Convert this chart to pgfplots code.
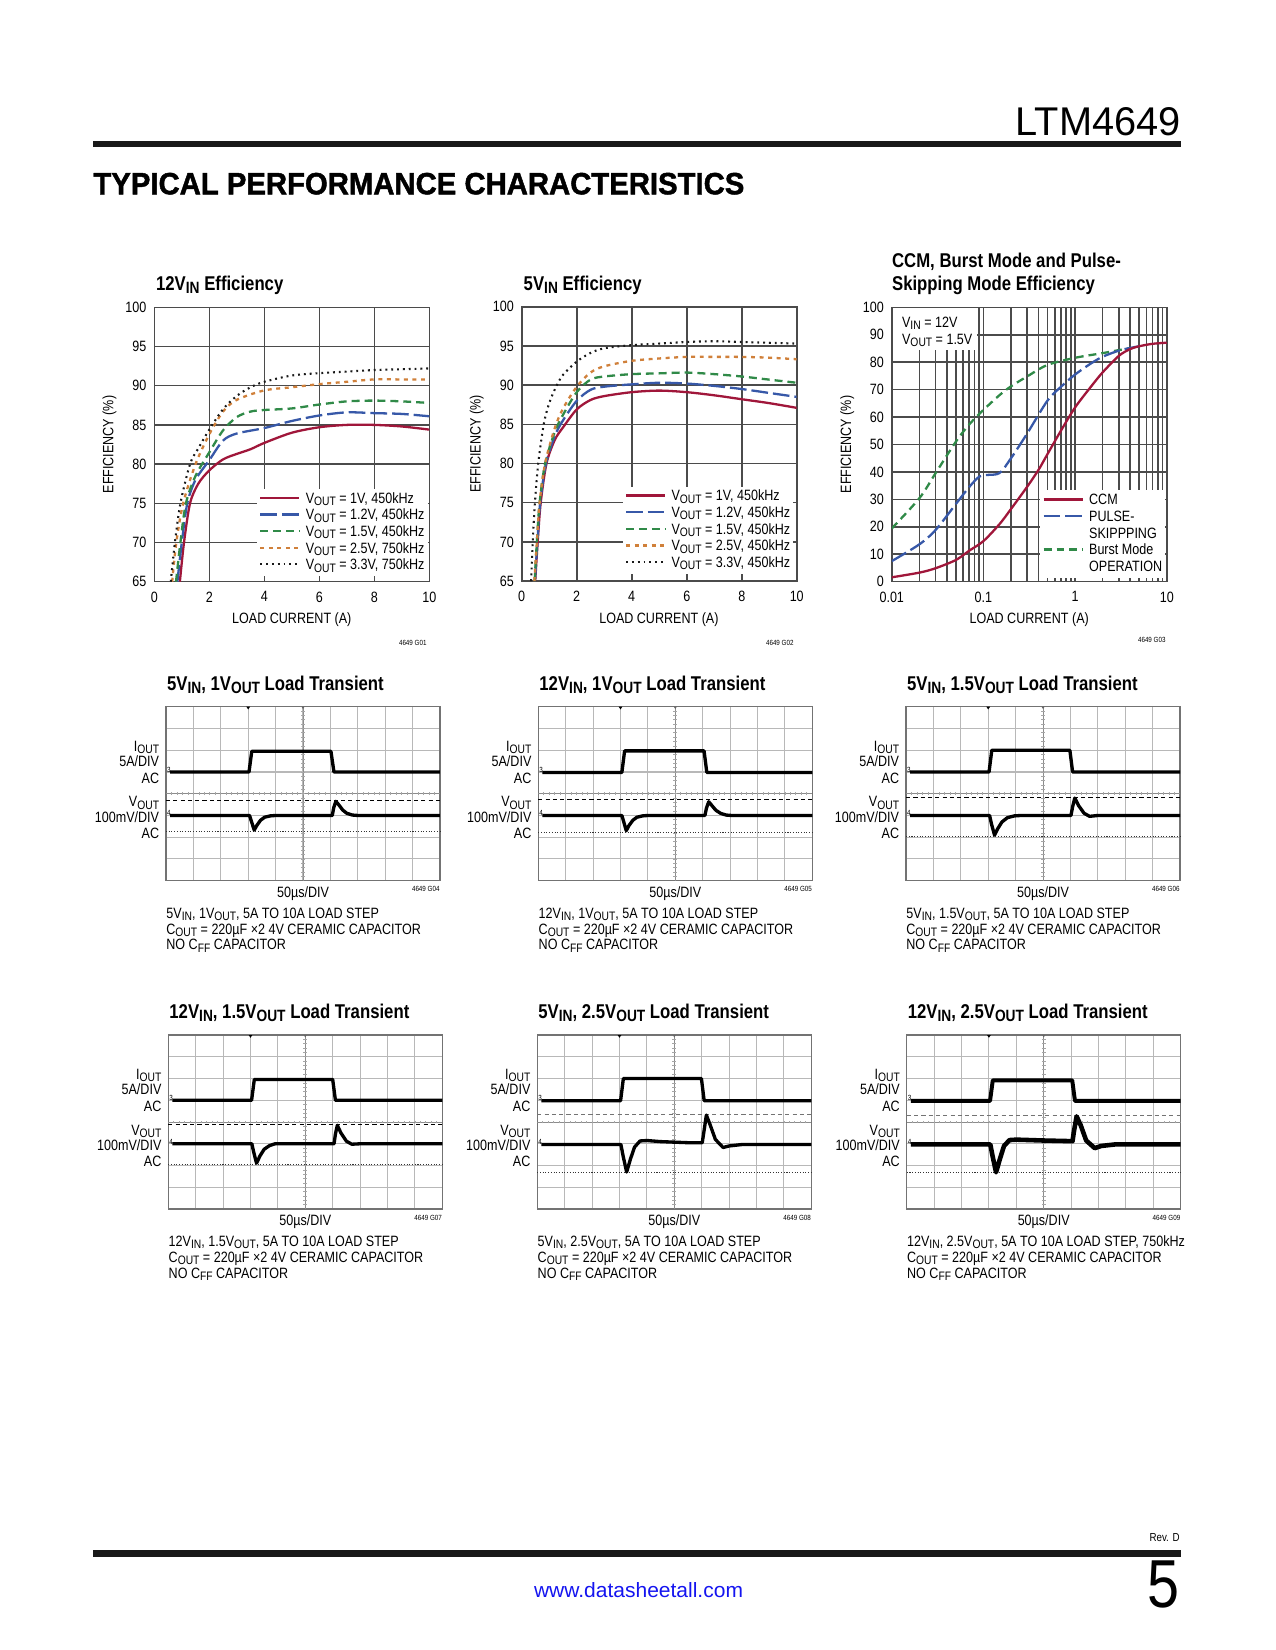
\documentclass[border=0pt]{standalone}
\usepackage{fontspec}
\setmainfont{Liberation Sans}[FakeStretch=0.84]
\newfontfamily\plainfont{Liberation Sans}
\newfontfamily\heavyfont{Liberation Sans}[BoldFeatures={FakeBold=1.5}]
\usepackage{graphicx}
\usepackage{pgfplots}
\pgfplotsset{compat=1.18}

\newdimen\pxu \pxu=0.48bp
\newcommand\sub[1]{\raisebox{-0.3ex}{\scalebox{0.82}{#1}}}
\newcommand\tk{\fontsize{7.2}{8.6}\selectfont}
\newcommand\ttl{\fontsize{9.6}{11.5}\selectfont\bfseries}
\newcommand\tinyf{\fontsize{3.6}{4.2}\selectfont}

\definecolor{cred}{RGB}{160,22,58}
\definecolor{cblue}{RGB}{55,88,168}
\definecolor{cgreen}{RGB}{48,138,72}
\definecolor{corange}{RGB}{208,128,58}
\definecolor{cdot}{RGB}{25,25,25}
\definecolor{cgrid}{RGB}{75,75,75}
\definecolor{linkblue}{RGB}{20,20,240}

\tikzset{
 sred/.style={cred, line width=1.1bp},
 sblue/.style={cblue, line width=1.1bp, dash pattern=on 8bp off 2.4bp},
 sgreen/.style={cgreen, line width=1.1bp, dash pattern=on 3.8bp off 2.4bp},
 sorange/.style={corange, line width=1.1bp, dash pattern=on 1.9bp off 2.2bp},
 sdot/.style={cdot, line width=1bp, dash pattern=on 0.9bp off 1.9bp},
 trace/.style={black, line width=1.6bp, line join=round},
}

\pgfplotsset{
 effax/.style={scale only axis, width=132bp, height=131.7bp, anchor=north west,
  axis line style={cgrid, line width=0.75bp},
  grid=major, grid style={cgrid, line width=0.75bp},
  major tick length=0pt, minor tick length=0pt,
  tick label style={font=\tk, inner sep=0pt},
  /pgf/number format/assume math mode=true,
  yticklabel style={xshift=-3.6bp},
  xticklabel style={yshift=-4.6bp},
  legend cell align=left,
  legend style={draw=none, fill=white, font=\tk, inner xsep=1bp, inner ysep=1bp,
   row sep=0pt, column sep=2bp,
   nodes={text height=5.3bp, text depth=1.6bp, inner ysep=0.55bp, inner xsep=0.5bp}},
  legend image code/.code={\draw[##1] (0bp,0.7bp) -- (18.8bp,0.7bp);},
 },
 scopeax/.style={scale only axis, width=131.5bp, height=83.5bp, anchor=north west,
  xmin=0, xmax=10, ymin=0, ymax=8, xtick={0,...,10}, ytick={0,...,8},
  xticklabels={}, yticklabels={}, major tick length=0pt,
  grid=major, grid style={black!28, line width=0.5bp},
  axis line style={black!55, line width=0.6bp}, clip=false},
}

\newcommand\graticule{%
 \draw[black!45, line width=0.45bp] (axis cs:5,0) -- (axis cs:5,8) (axis cs:0,4) -- (axis cs:10,4);
 \pgfplotsinvokeforeach{0.2,0.4,...,9.8}{\draw[black!35, line width=0.35bp] (axis cs:##1,3.94) -- (axis cs:##1,4.06);}
 \pgfplotsinvokeforeach{0.2,0.4,...,7.8}{\draw[black!35, line width=0.35bp] (axis cs:4.93,##1) -- (axis cs:5.07,##1);}
 \fill[black] (axis cs:3,8) ++(-0.9bp,0) -- ++(1.8bp,0) -- ++(-0.9bp,-1.3bp) -- cycle;
 \fill[black!60] (axis cs:5,8) ++(-0.7bp,0) -- ++(1.4bp,0) -- ++(-0.7bp,-1.1bp) -- cycle;
 \node[font=\tinyf, anchor=west, inner sep=0.3bp] at (axis cs:0,5.1) {3};
 \node[font=\tinyf, anchor=west, inner sep=0.3bp] at (axis cs:0,3.1) {4};
}

% #1 x0  #2 y0  #3 title  #4 fig  #5 caption line 1
\newcommand\scopetxt[5]{%
 \node[anchor=base west, inner sep=0, font=\ttl] at ({#1+0.7},{#2-16.7}) {#3};
 \node[anchor=base east, inner sep=0, font=\tk] at ({#1-6.5},{#2+44.5}) {I\sub{OUT}};
 \node[anchor=base east, inner sep=0, font=\tk] at ({#1-6.5},{#2+59.3}) {5A/DIV};
 \node[anchor=base east, inner sep=0, font=\tk] at ({#1-6.5},{#2+76.6}) {AC};
 \node[anchor=base east, inner sep=0, font=\tk] at ({#1-6.5},{#2+100}) {V\sub{OUT}};
 \node[anchor=base east, inner sep=0, font=\tk] at ({#1-6.5},{#2+115.5}) {100mV/DIV};
 \node[anchor=base east, inner sep=0, font=\tk] at ({#1-6.5},{#2+131.6}) {AC};
 \node[anchor=base, inner sep=0, font=\tk] at ({#1+137},{#2+190.6}) {50µs/DIV};
 \node[anchor=base east, inner sep=0, font=\tinyf] at ({#1+274},{#2+185}) {4649 #4};
 \node[anchor=base west, inner sep=0, font=\tk] at ({#1},{#2+211.3}) {#5};
 \node[anchor=base west, inner sep=0, font=\tk] at ({#1},{#2+227.3}) {C\sub{OUT} = 220µF ×2 4V CERAMIC CAPACITOR};
 \node[anchor=base west, inner sep=0, font=\tk] at ({#1},{#2+243}) {NO C\sub{FF} CAPACITOR};
}

\begin{document}
\begin{tikzpicture}[x=0.48bp,y=-0.48bp]
\fill[white] (0,0) rectangle (1275,1650);
\path[use as bounding box] (0,0) rectangle (1275,1650);

% ---------- header / footer ----------
\node[anchor=south east, inner sep=0] at (1181,136) {\resizebox{165\pxu}{28\pxu}{\plainfont LTM4649}};
\fill[black!90] (93,140.7) rectangle (1181,147.3);
\node[anchor=south west, inner sep=0] at (93,195) {\resizebox{651\pxu}{21.5\pxu}{\heavyfont\bfseries TYPICAL PERFORMANCE CHARACTERISTICS}};
\node[anchor=base east, inner sep=0, font=\fontsize{5.6}{6}\selectfont] at (1180,1541.7) {Rev. D};
\fill[black!90] (93,1550) rectangle (1181,1556.7);
\node[anchor=south east, inner sep=0] at (1180,1608.3) {\resizebox{32\pxu}{46.7\pxu}{\plainfont 5}};
\node[anchor=south west, inner sep=0, text=linkblue] at (533.6,1598.3) {\resizebox{209\pxu}{15\pxu}{www.datasheetall.com}};

% ---------- efficiency 12VIN ----------
\begin{axis}[effax, at={(74.06bp,-147.50bp)},
  xmin=0, xmax=10, ymin=65, ymax=100, xtick={0,2,...,10}, ytick={65,70,...,100},
  legend style={at={(0.372,0.34)}, anchor=north west}]
\addplot[sred, smooth] coordinates {(0.93,65)(1.08,70)(1.3,75)(1.6,77.5)(2,79.2)(2.5,80.6)(3,81.3)(3.5,81.9)(4,82.7)(5,84.0)(6,84.7)(7,85.0)(8,85.0)(9,84.8)(10,84.4)};
\addlegendentry{V\sub{OUT} = 1V, 450kHz}
\addplot[sblue, smooth] coordinates {(0.84,65)(1.0,70)(1.2,75)(1.5,78)(2,80.5)(2.5,83.0)(3,83.9)(4,84.6)(5,85.5)(6,86.2)(7,86.6)(8,86.5)(9,86.4)(10,86.1)};
\addlegendentry{V\sub{OUT} = 1.2V, 450kHz}
\addplot[sgreen, smooth] coordinates {(0.79,65)(0.95,70)(1.15,75)(1.5,78.5)(2,81.5)(2.5,84.3)(3,86.0)(3.5,86.7)(4,86.9)(5,87.1)(6,87.6)(7,88.0)(8,88.1)(9,88.0)(10,87.8)};
\addlegendentry{V\sub{OUT} = 1.5V, 450kHz}
\addplot[sorange, smooth] coordinates {(0.65,65)(0.8,70)(1.05,75)(1.5,80)(2,83.8)(2.5,86.7)(3,88.2)(4,89.4)(5,89.8)(6,90.2)(7,90.5)(8,90.8)(9,90.8)(10,90.8)};
\addlegendentry{V\sub{OUT} = 2.5V, 750kHz}
\addplot[sdot, smooth] coordinates {(0.6,65)(0.75,70)(0.95,75)(1.3,80)(1.6,82)(2,84.4)(2.5,87.0)(3,88.7)(3.5,89.8)(4,90.5)(5,91.3)(6,91.6)(7,91.8)(8,92.0)(9,92.1)(10,92.2)};
\addlegendentry{V\sub{OUT} = 3.3V, 750kHz}
\end{axis}
\node[anchor=base west, inner sep=0, font=\ttl] at (155.7,290.7) {12V\sub{IN} Efficiency};
\node[anchor=base, inner sep=0, font=\tk] at (291.8,623.5) {LOAD CURRENT (A)};
\node[anchor=base, inner sep=0, font=\tk, rotate=90] at (113.3,444.5) {EFFICIENCY (\%)};
\node[anchor=base east, inner sep=0, font=\tinyf] at (427,645) {4649 G01};

% ---------- efficiency 5VIN ----------
\begin{axis}[effax, at={(250.42bp,-147.22bp)},
  xmin=0, xmax=10, ymin=65, ymax=100, xtick={0,2,...,10}, ytick={65,70,...,100},
  legend style={at={(0.366,0.346)}, anchor=north west}]
\addplot[sred, smooth] coordinates {(0.49,65)(0.58,70)(0.69,75)(0.9,80)(1.2,83)(1.5,84.6)(2,86.9)(2.5,88.1)(3,88.6)(4,89.1)(5,89.3)(6,89.1)(7,88.7)(8,88.2)(9,87.7)(10,87.1)};
\addlegendentry{V\sub{OUT} = 1V, 450kHz}
\addplot[sblue, smooth] coordinates {(0.48,65)(0.57,70)(0.67,75)(0.88,80)(1.2,83.5)(1.5,85.5)(2,88.0)(2.5,89.4)(3,89.8)(4,90.1)(5,90.3)(6,90.2)(7,89.9)(8,89.5)(9,89.0)(10,88.5)};
\addlegendentry{V\sub{OUT} = 1.2V, 450kHz}
\addplot[sgreen, smooth] coordinates {(0.47,65)(0.55,70)(0.65,75)(0.85,80)(1.2,84)(1.5,86.2)(2,89.1)(2.5,90.7)(3,91.1)(4,91.4)(5,91.5)(6,91.6)(7,91.4)(8,91.1)(9,90.7)(10,90.3)};
\addlegendentry{V\sub{OUT} = 1.5V, 450kHz}
\addplot[sorange, smooth] coordinates {(0.46,65)(0.55,70)(0.65,75)(0.85,80)(1.2,84.5)(1.5,87)(2,89.8)(2.5,91.6)(3,92.4)(4,93.1)(5,93.4)(6,93.6)(7,93.6)(8,93.6)(9,93.5)(10,93.3)};
\addlegendentry{V\sub{OUT} = 2.5V, 450kHz}
\addplot[sdot, smooth] coordinates {(0.34,65)(0.4,70)(0.48,75)(0.6,80)(0.8,85)(1,87.7)(1.25,89.8)(1.5,91.3)(2,93.0)(2.5,94.1)(3,94.7)(4,95.1)(5,95.3)(6,95.5)(7,95.6)(8,95.5)(9,95.4)(10,95.3)};
\addlegendentry{V\sub{OUT} = 3.3V, 450kHz}
\end{axis}
\node[anchor=base west, inner sep=0, font=\ttl] at (523.3,290.7) {5V\sub{IN} Efficiency};
\node[anchor=base, inner sep=0, font=\tk] at (658.9,623.5) {LOAD CURRENT (A)};
\node[anchor=base, inner sep=0, font=\tk, rotate=90] at (480.7,444) {EFFICIENCY (\%)};
\node[anchor=base east, inner sep=0, font=\tinyf] at (794,645) {4649 G02};

% ---------- CCM / Burst / Pulse-skipping ----------
\begin{axis}[effax, at={(428.02bp,-147.50bp)}, xmode=log,
  xmin=0.01, xmax=10, ymin=0, ymax=100, ytick={0,10,...,100},
  xtick={0.01,0.1,1,10}, xticklabels={0.01,0.1,1,10},
  minor xtick={0.02,0.03,0.04,0.05,0.06,0.07,0.08,0.09,0.2,0.3,0.4,0.5,0.6,0.7,0.8,0.9,2,3,4,5,6,7,8,9},
  xminorgrids=true, minor grid style={cgrid, line width=0.75bp},
  legend style={at={(0.539,0.334)}, anchor=north west}]
\addplot[sgreen, smooth, forget plot] coordinates {(0.01,19.4)(0.02,30.4)(0.03,39.5)(0.05,51)(0.07,57.3)(0.1,62.6)(0.15,68)(0.2,71.2)(0.3,74.8)(0.5,79)(1,81.6)(2,83.3)(3,84.4)(4,85.1)};
\addplot[sblue, smooth, forget plot] coordinates {(0.01,7.5)(0.02,13.6)(0.03,18.8)(0.05,28.3)(0.07,34.5)(0.09,38.3)(0.11,38.9)(0.15,39.6)(0.2,45)(0.3,54)(0.5,66)(0.7,71)(1,75.5)(1.5,79.6)(2,82)(3,84.2)(4,85.2)(5,85.8)};
\addplot[sred, smooth, forget plot] coordinates {(0.01,1.6)(0.02,3.3)(0.03,4.9)(0.05,7.9)(0.07,11.3)(0.1,14.8)(0.15,21)(0.2,26.5)(0.3,34.6)(0.4,40.8)(0.5,46.5)(0.7,55)(1,63.5)(1.5,71.2)(2,76.3)(3,82.3)(4,84.8)(5,85.8)(7,86.7)(10,87.1)};
\addlegendimage{sred}\addlegendentry{CCM}
\addlegendimage{sblue}\addlegendentry{PULSE-}
\addlegendimage{empty legend}\addlegendentry{SKIPPPING}
\addlegendimage{sgreen}\addlegendentry{Burst Mode}
\addlegendimage{empty legend}\addlegendentry{OPERATION}
\end{axis}
\fill[white] (892.6,308.2) rectangle (977,350);
\node[anchor=base west, inner sep=0, font=\tk] at (901.7,327) {V\sub{IN} = 12V};
\node[anchor=base west, inner sep=0, font=\tk] at (901.7,344.6) {V\sub{OUT} = 1.5V};
\node[anchor=base west, inner sep=0, font=\ttl] at (891.7,267.3) {CCM, Burst Mode and Pulse-};
\node[anchor=base west, inner sep=0, font=\ttl] at (891.7,290) {Skipping Mode Efficiency};
\node[anchor=base, inner sep=0, font=\tk] at (1029.2,623.5) {LOAD CURRENT (A)};
\node[anchor=base, inner sep=0, font=\tk, rotate=90] at (851,444.5) {EFFICIENCY (\%)};
\node[anchor=base east, inner sep=0, font=\tinyf] at (1166,642) {4649 G03};

% ---------- scope 1 ----------
\begin{axis}[scopeax, at={(79.68bp,-339.22bp)}]
\graticule
\addplot[black, line width=0.45bp, dash pattern=on 2bp off 1.5bp] coordinates {(0,3.7)(10,3.7)};
\addplot[black!80, line width=0.45bp, dash pattern=on 0.5bp off 0.8bp] coordinates {(0,2.25)(10,2.25)};
\addplot[trace] coordinates {(0.15,5)(3.03,5)(3.13,5.95)(6.02,5.95)(6.13,5)(10,5)};
\addplot[trace] coordinates {(0.15,3)(3.05,3)(3.12,2.72)(3.22,2.33)(3.32,2.55)(3.45,2.78)(3.6,2.92)(3.8,2.98)(4,3)(6.07,3)(6.12,3.35)(6.2,3.65)(6.3,3.5)(6.45,3.25)(6.6,3.1)(6.8,3.02)(7,3)(10,3)};
\end{axis}
\scopetxt{166}{706.7}{5V\sub{IN}, 1V\sub{OUT} Load Transient}{G04}{5V\sub{IN}, 1V\sub{OUT}, 5A TO 10A LOAD STEP}

% ---------- scope 2 ----------
\begin{axis}[scopeax, at={(258.38bp,-339.22bp)}]
\graticule
\addplot[black, line width=0.45bp, dash pattern=on 2bp off 1.5bp] coordinates {(0,3.74)(10,3.74)};
\addplot[black!80, line width=0.45bp, dash pattern=on 0.5bp off 0.8bp] coordinates {(0,2.23)(10,2.23)};
\addplot[trace] coordinates {(0.15,4.98)(3.05,4.98)(3.15,5.97)(6.05,5.97)(6.15,4.98)(10,4.98)};
\addplot[trace] coordinates {(0.15,3)(3.05,3)(3.12,2.7)(3.21,2.3)(3.3,2.52)(3.45,2.78)(3.6,2.92)(3.8,2.98)(4,3)(6.08,3)(6.14,3.35)(6.22,3.63)(6.32,3.48)(6.48,3.24)(6.65,3.1)(6.85,3.02)(7.05,3)(10,3)};
\end{axis}
\scopetxt{538.3}{706.7}{12V\sub{IN}, 1V\sub{OUT} Load Transient}{G05}{12V\sub{IN}, 1V\sub{OUT}, 5A TO 10A LOAD STEP}

% ---------- scope 3 ----------
\begin{axis}[scopeax, at={(434.88bp,-339.22bp)}]
\graticule
\addplot[black, line width=0.45bp, dash pattern=on 2bp off 1.5bp] coordinates {(0,3.85)(10,3.85)};
\addplot[black!80, line width=0.45bp, dash pattern=on 0.5bp off 0.8bp] coordinates {(0,2.02)(10,2.02)};
\addplot[trace] coordinates {(0.15,5)(3.03,5)(3.13,6)(5.98,6)(6.08,5)(10,5)};
\addplot[trace] coordinates {(0.15,3)(3.05,3)(3.12,2.6)(3.23,2.1)(3.35,2.4)(3.5,2.7)(3.7,2.9)(3.95,2.98)(4.2,3)(6.02,3)(6.08,3.4)(6.16,3.8)(6.3,3.45)(6.5,3.1)(6.7,2.96)(7,3)(10,3)};
\end{axis}
\scopetxt{906}{706.7}{5V\sub{IN}, 1.5V\sub{OUT} Load Transient}{G06}{5V\sub{IN}, 1.5V\sub{OUT}, 5A TO 10A LOAD STEP}

% ---------- scope 4 ----------
\begin{axis}[scopeax, at={(80.78bp,-496.8bp)}]
\graticule
\addplot[black, line width=0.45bp, dash pattern=on 2bp off 1.5bp] coordinates {(0,3.9)(10,3.9)};
\addplot[black!80, line width=0.45bp, dash pattern=on 0.5bp off 0.8bp] coordinates {(0,2.06)(10,2.06)};
\addplot[trace] coordinates {(0.15,5)(3.04,5)(3.14,5.96)(6.0,5.96)(6.1,5)(10,5)};
\addplot[trace] coordinates {(0.15,3)(3.05,3)(3.12,2.6)(3.22,2.11)(3.35,2.45)(3.5,2.75)(3.7,2.92)(3.9,3)(6.05,3)(6.1,3.45)(6.17,3.85)(6.3,3.5)(6.5,3.12)(6.7,2.98)(7,3)(10,3)};
\end{axis}
\scopetxt{168.3}{1035}{12V\sub{IN}, 1.5V\sub{OUT} Load Transient}{G07}{12V\sub{IN}, 1.5V\sub{OUT}, 5A TO 10A LOAD STEP}

% ---------- scope 5 ----------
\begin{axis}[scopeax, at={(257.9bp,-496.8bp)}]
\graticule
\addplot[black!55, line width=0.45bp, dash pattern=on 2bp off 1.5bp] coordinates {(0,4.35)(10,4.35)};
\addplot[black!80, line width=0.45bp, dash pattern=on 0.5bp off 0.8bp] coordinates {(0,1.66)(10,1.66)};
\addplot[trace] coordinates {(0.15,4.98)(3.04,4.98)(3.14,6)(5.99,6)(6.09,4.98)(10,4.98)};
\addplot[trace] coordinates {(0.15,2.97)(3.05,2.97)(3.13,2.45)(3.26,1.7)(3.4,2.3)(3.55,2.85)(3.75,3.13)(4,3.15)(4.5,3.1)(5.5,3.05)(6.02,3.05)(6.08,3.55)(6.17,4.32)(6.3,3.9)(6.5,3.2)(6.78,2.83)(7,2.9)(7.5,2.97)(10,2.97)};
\end{axis}
\scopetxt{537.3}{1035}{5V\sub{IN}, 2.5V\sub{OUT} Load Transient}{G08}{5V\sub{IN}, 2.5V\sub{OUT}, 5A TO 10A LOAD STEP}

% ---------- scope 6 ----------
\begin{axis}[scopeax, at={(435.22bp,-496.8bp)}]
\graticule
\addplot[black!55, line width=0.45bp, dash pattern=on 2bp off 1.5bp] coordinates {(0,4.3)(10,4.3)};
\addplot[black!80, line width=0.45bp, dash pattern=on 0.5bp off 0.8bp] coordinates {(0,1.66)(10,1.66)};
\addplot[trace, line width=1.9bp] coordinates {(0.15,4.97)(3.04,4.97)(3.14,5.92)(6.04,5.92)(6.14,4.97)(10,4.97)};
\addplot[trace, line width=2.2bp] coordinates {(0.15,2.97)(3.05,2.97)(3.13,2.45)(3.26,1.69)(3.4,2.3)(3.55,2.9)(3.75,3.17)(4,3.19)(5,3.15)(6.05,3.12)(6.1,3.55)(6.2,4.26)(6.35,3.85)(6.55,3.15)(6.86,2.8)(7.1,2.9)(7.6,2.97)(10,2.97)};
\end{axis}
\scopetxt{906.7}{1035}{12V\sub{IN}, 2.5V\sub{OUT} Load Transient}{G09}{12V\sub{IN}, 2.5V\sub{OUT}, 5A TO 10A LOAD STEP, 750kHz}

\end{tikzpicture}
\end{document}
